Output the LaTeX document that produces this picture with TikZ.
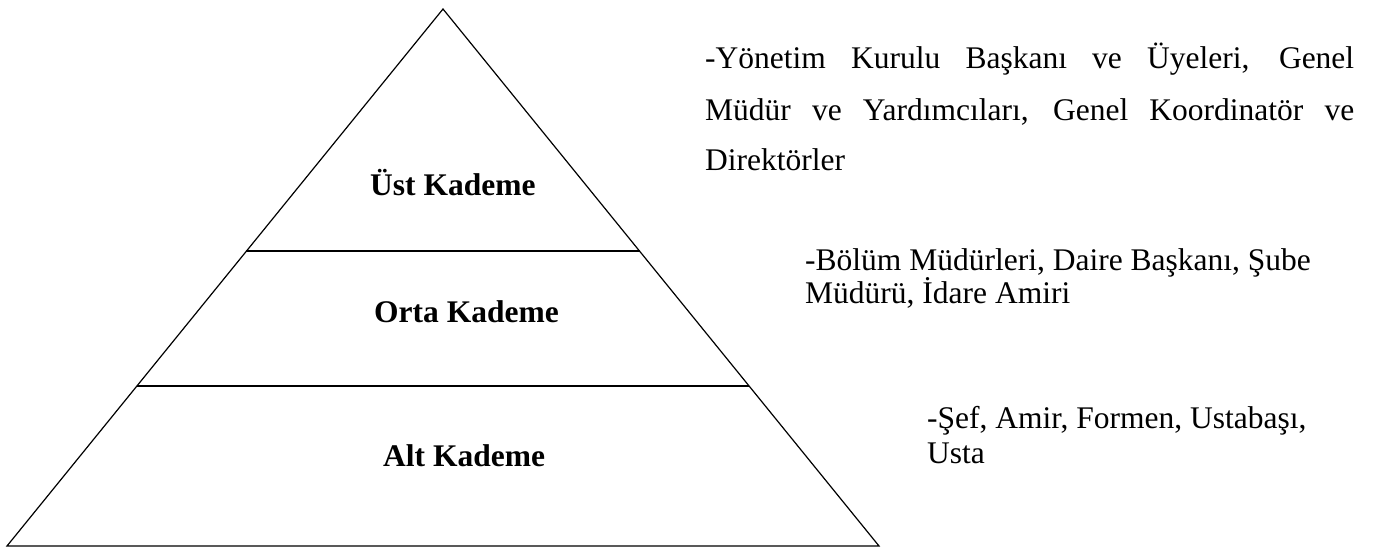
\documentclass[tikz,border=0pt]{standalone}
\usepackage{fontspec}
\setmainfont{Liberation Serif}
\usetikzlibrary{calc}
\begin{document}
\begin{tikzpicture}[x=1pt,y=-1pt,
  edge/.style={line width=1.2pt,line join=miter},
  tier/.style={line width=1.6pt},
  lvl/.style={anchor=base west,inner sep=0pt,font=\fontsize{31.5}{36}\selectfont\bfseries},
  desc/.style={anchor=base west,inner sep=0pt,font=\fontsize{31.5}{36}\selectfont}]
\useasboundingbox[fill=white] (0,0) rectangle (1374,552);
% pyramid
\coordinate (A) at (443,9);
\coordinate (BL) at (7,546);
\coordinate (BR) at (879,546);
\draw[edge] (A) -- (BL) -- (BR) -- cycle;
\coordinate (L1) at ($(A)!0.4507!(BL)$);
\coordinate (R1) at ($(A)!0.4507!(BR)$);
\coordinate (L2) at ($(A)!0.702!(BL)$);
\coordinate (R2) at ($(A)!0.702!(BR)$);
\draw[tier] (L1) -- (R1);
\draw[tier] (L2) -- (R2);
% level labels
\node[lvl] (ust) at (370,195) {Üst Kademe};
\node[lvl] (orta) at (374,322) {Orta Kademe};
\node[lvl] (alt) at (383,466) {Alt Kademe};
% descriptions
\node[desc] (d1a) at (705,68) {\makebox[649pt][s]{-Yönetim Kurulu Başkanı ve Üyeleri, Genel}};
\node[desc] (d1b) at (705,120) {\makebox[649pt][s]{Müdür ve Yardımcıları, Genel Koordinatör ve}};
\node[desc] (d1c) at (705,170) {Direktörler};
\node[desc] (d2a) at (805,270) {-Bölüm Müdürleri, Daire Başkanı, Şube};
\node[desc] (d2b) at (805,303) {Müdürü, İdare Amiri};
\node[desc] (d3a) at (927,428) {-Şef, Amir, Formen, Ustabaşı,};
\node[desc] (d3b) at (927,463) {Usta};
\end{tikzpicture}
\end{document}
